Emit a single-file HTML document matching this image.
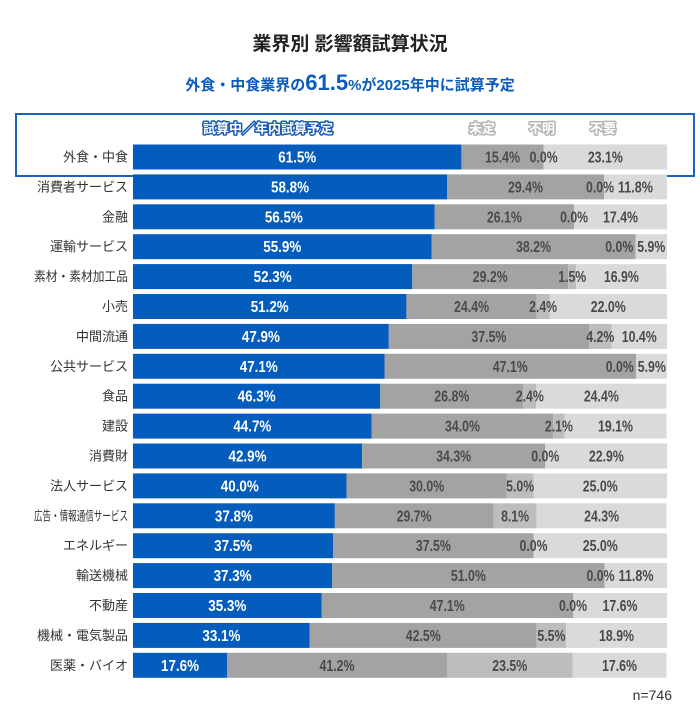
<!DOCTYPE html>
<html><head><meta charset="utf-8"><style>
body{margin:0;background:#fff;}
svg{display:block;}
.cat{font-family:"Liberation Sans","Noto Sans CJK JP",sans-serif;font-size:13px;fill:#333;}
.val{font-family:"Liberation Sans","Noto Sans CJK JP",sans-serif;font-weight:bold;font-size:16px;}
</style></head><body>
<svg id="chart" width="700" height="720" xmlns="http://www.w3.org/2000/svg">
<text x="350" y="50" text-anchor="middle" font-family="Liberation Sans, Noto Sans CJK JP, sans-serif" font-weight="bold" font-size="19" fill="#222">業界別 影響額試算状況</text>
<text x="350" y="90" text-anchor="middle" font-family="Liberation Sans, Noto Sans CJK JP, sans-serif" font-weight="bold" font-size="15" fill="#0a5cbc">外食・中食業界の<tspan font-size="22">61.5</tspan>%が2025年中に試算予定</text>
<rect x="16" y="114" width="678" height="62" fill="none" stroke="#1a63bd" stroke-width="2"/>
<g font-family="Liberation Sans, Noto Sans CJK JP, sans-serif" font-weight="bold" font-size="13" paint-order="stroke" stroke-linejoin="round">
<text x="268" y="133" text-anchor="middle" fill="#fff" stroke="#1a5cb5" stroke-width="3">試算中／年内試算予定</text>
<text x="482" y="133" text-anchor="middle" fill="#fff" stroke="#b5b5b5" stroke-width="3">未定</text>
<text x="542" y="133" text-anchor="middle" fill="#fff" stroke="#b5b5b5" stroke-width="3">不明</text>
<text x="603" y="133" text-anchor="middle" fill="#fff" stroke="#b5b5b5" stroke-width="3">不要</text>
</g>
<g id="bars"></g>
<text x="672" y="700" text-anchor="end" font-family="Liberation Sans, sans-serif" font-size="14" fill="#333">n=746</text>
</svg>
<script>
const categories=["外食・中食","消費者サービス","金融","運輸サービス","素材・素材加工品","小売","中間流通","公共サービス","食品","建設","消費財","法人サービス","広告・情報通信サービス","エネルギー","輸送機械","不動産","機械・電気製品","医薬・バイオ"];
const inProgress=[61.5,58.8,56.5,55.9,52.3,51.2,47.9,47.1,46.3,44.7,42.9,40.0,37.8,37.5,37.3,35.3,33.1,17.6];
const undecided=[15.4,29.4,26.1,38.2,29.2,24.4,37.5,47.1,26.8,34.0,34.3,30.0,29.7,37.5,51.0,47.1,42.5,41.2];
const unknown=[0.0,0.0,0.0,0.0,1.5,2.4,4.2,0.0,2.4,2.1,0.0,5.0,8.1,0.0,0.0,0.0,5.5,23.5];
const unneeded=[23.1,11.8,17.4,5.9,16.9,22.0,10.4,5.9,24.4,19.1,22.9,25.0,24.3,25.0,11.8,17.6,18.9,17.6];
const series=[inProgress,undecided,unknown,unneeded];
const seriesNames=["in-progress","undecided","unknown","unneeded"];
const colors=["#045cbc","#a3a3a3","#bdbdbd","#dadada"];
const textColors=["#fff","#4a4a4a","#4a4a4a","#4a4a4a"];
const X0=133,W=534,Y0=157,STEP=29.9,BH=25;
const x=v=>X0+v/100*W;
const y=i=>Y0+i*STEP;
const g=document.getElementById('bars');
const NS="http://www.w3.org/2000/svg";
categories.forEach((c,i)=>{
  const t=document.createElementNS(NS,'text');
  
  
  t.setAttribute('class','cat');
  t.setAttribute('x',128);t.setAttribute('y',y(i)+4.5);t.setAttribute('text-anchor','end');
  t.textContent=c;g.appendChild(t);
  if(t.getComputedTextLength()>94){t.setAttribute('textLength',94);t.setAttribute('lengthAdjust','spacingAndGlyphs');}
  let acc=0;
  series.forEach((s,k)=>{
    const v=s[i];
    const r=document.createElementNS(NS,'rect');
    
    
    r.setAttribute('x',x(acc));r.setAttribute('y',y(i)-BH/2);
    r.setAttribute('width',Math.max(0,Math.min(x(acc+v),X0+W)-x(acc)));r.setAttribute('height',BH);
    r.setAttribute('fill',colors[k]);g.appendChild(r);
    acc+=v;
  });
  acc=0;
  const labs=[];
  series.forEach((s,k)=>{
    const v=s[i];
    const txt=v.toFixed(1)+'%';
    const w=txt.length*(k===0?7.6:7);
    labs.push({k,txt,w,c:(x(acc)+x(acc+v))/2});
    acc+=v;
  });
  for(let j=labs.length-1;j>=0;j--){
    const L=labs[j];
    const maxR=j===labs.length-1?672:labs[j+1].c-labs[j+1].w/2-4;
    if(L.c+L.w/2>maxR)L.c=maxR-L.w/2;
  }
  labs.forEach(L=>{
    const tx=document.createElementNS(NS,'text');
    
    
    tx.setAttribute('class','val');
    tx.setAttribute('x',L.c);tx.setAttribute('y',y(i)+5.5);
    tx.setAttribute('text-anchor','middle');tx.setAttribute('fill',textColors[L.k]);
    tx.setAttribute('textLength',L.w);tx.setAttribute('lengthAdjust','spacingAndGlyphs');
    tx.textContent=L.txt;g.appendChild(tx);
  });
});
</script>
</body></html>
